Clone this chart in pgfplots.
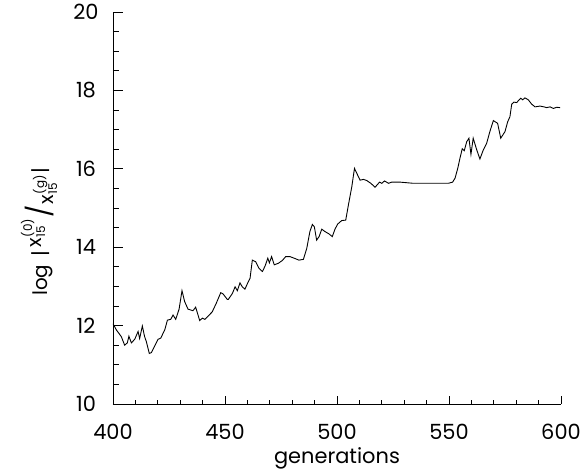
\documentclass[border=0pt]{standalone}
\usepackage{fontspec}
\setmainfont{Poppins}
\usepackage{pgfplots}
\pgfplotsset{compat=1.18}
\newcommand\xs[1]{x\hspace{0.05em}\raisebox{0.2em}{\fontsize{12}{13}\selectfont\begin{tabular}{@{}l@{}}(#1)\\15\end{tabular}}}
\begin{document}
\begin{tikzpicture}
\begin{axis}[
  scale only axis, width=448bp, height=392bp,
  xmin=400, xmax=600, ymin=10, ymax=20,
  axis x line=bottom, axis y line=left,
  axis line style={-, line width=1pt},
  xtick={400,450,...,600}, minor x tick num=4,
  ytick={10,12,...,20}, minor y tick num=3,
  tick align=inside,
  tick style={black, line width=0.8pt},
  xtick style={/pgfplots/major tick length=8bp, /pgfplots/minor tick length=4bp},
  ytick style={/pgfplots/major tick length=10bp, /pgfplots/minor tick length=6bp},
  /pgf/number format/assume math mode=true,
  ticklabel style={font=\fontsize{21}{24}\selectfont},
  xticklabel style={anchor=center, yshift=-28bp},
  yticklabel style={anchor=center, xshift=-27bp},
  xlabel={generations},
  xlabel style={font=\fontsize{21}{24}\selectfont, at={(rel axis cs:0.5,0)}, anchor=center, yshift=-54bp},
  ylabel={log\hspace{0.4em}|\hspace{0.15em}\raisebox{0.3em}{\xs{0}}\hspace{0.05em}\raisebox{-0.1em}{\fontsize{26}{26}\selectfont/}\hspace{0.05em}\raisebox{-0.3em}{\xs{g}}\hspace{0.1em}|},
  ylabel style={font=\fontsize{20}{24}\selectfont, at={(rel axis cs:0,0.44)}, anchor=center, yshift=72bp},
]
\addplot[black, line width=0.9pt] coordinates {
(400.0,12.05) (401.5,11.89) (403.7,11.72) (405.2,11.50) (406.4,11.56) (407.1,11.73)
(408.2,11.56) (409.7,11.65) (411.2,11.85) (411.9,11.67) (413.1,11.99) (414.1,11.72)
(414.9,11.59) (416.2,11.29) (417.1,11.31) (418.6,11.48) (420.1,11.65) (421.3,11.68)
(423.1,11.89) (424.3,12.14) (425.8,12.16) (426.8,12.27) (428.0,12.16) (429.5,12.42)
(430.8,12.89) (432.0,12.61) (433.5,12.42) (435.7,12.38) (436.9,12.47) (438.7,12.13)
(439.9,12.19) (441.0,12.16) (442.4,12.24) (444.3,12.35) (446.1,12.57) (448.1,12.84)
(449.1,12.81) (451.0,12.67) (451.5,12.67) (453.3,12.82) (454.5,12.99) (455.5,12.89)
(456.7,13.09) (457.7,12.99) (458.9,12.93) (460.4,13.12) (461.2,13.21) (462.2,13.67)
(463.7,13.63) (465.2,13.46) (466.7,13.38) (467.9,13.52) (469.1,13.72) (469.8,13.60)
(470.8,13.76) (472.0,13.55) (473.8,13.59) (475.6,13.66) (477.1,13.76) (479.0,13.76)
(481.3,13.71) (483.0,13.67) (485.0,13.69) (486.5,13.97) (487.9,14.40) (489.0,14.58)
(489.9,14.52) (490.9,14.18) (492.0,14.27) (493.2,14.46) (494.6,14.40) (496.4,14.34)
(497.9,14.27) (499.1,14.46) (500.3,14.59) (502.1,14.68) (503.9,14.69) (505.1,15.08)
(506.6,15.54) (507.8,16.01) (508.8,15.89) (510.3,15.71) (511.8,15.73) (513.3,15.70)
(515.1,15.63) (517.0,15.53) (519.0,15.66) (520.0,15.63) (521.2,15.69) (523.0,15.63)
(524.4,15.66) (528.1,15.66) (534.1,15.63) (541.5,15.63) (549.7,15.63) (551.6,15.66)
(552.7,15.76) (553.9,16.01) (554.9,16.27) (555.9,16.51) (556.8,16.46) (557.9,16.69)
(558.9,16.78) (559.8,16.37) (560.8,16.78) (562.4,16.48) (563.8,16.25) (565.3,16.48)
(566.8,16.65) (568.3,16.96) (569.8,17.23) (571.7,17.16) (573.1,16.78) (575.0,16.95)
(576.2,17.20) (577.2,17.33) (578.0,17.65) (579.0,17.70) (580.2,17.69) (582.0,17.80)
(582.9,17.76) (583.9,17.81) (585.4,17.76) (586.9,17.65) (588.4,17.58) (590.6,17.60)
(592.4,17.58) (593.6,17.56) (595.1,17.58) (596.6,17.54) (598.1,17.57) (599.6,17.56)
};
\coordinate (O) at (rel axis cs:0,0);
\end{axis}
\pgfresetboundingbox
\path[use as bounding box] (O) ++(-113bp,-69bp) rectangle ++(587bp,473bp);
\end{tikzpicture}
\end{document}
